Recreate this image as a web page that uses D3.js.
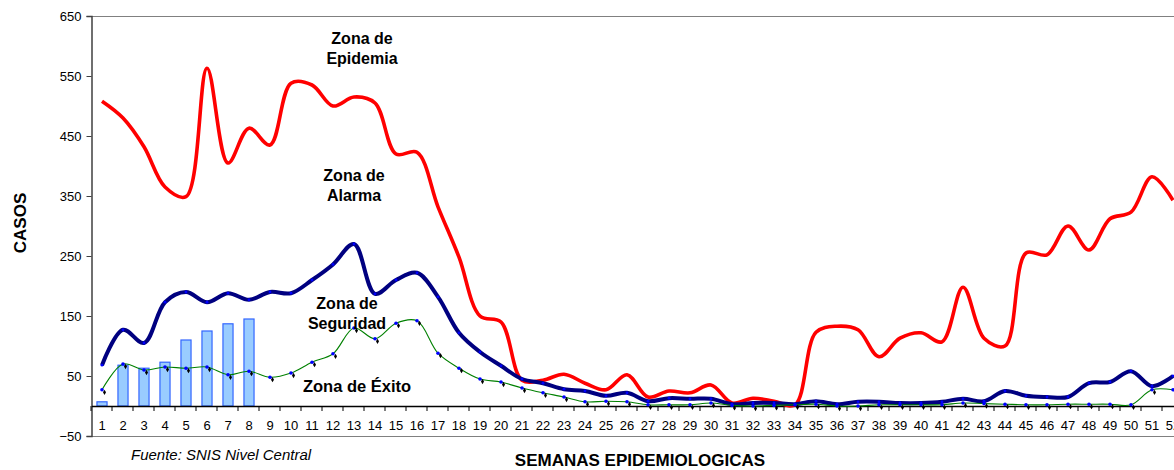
<!DOCTYPE html>
<html><head><meta charset="utf-8">
<script src="https://cdn.jsdelivr.net/npm/d3@7"></script>
<style>
html,body{margin:0;padding:0;background:#fff;overflow:hidden}
text{font-family:"Liberation Sans",Arial,sans-serif}
</style></head>
<body>
<svg id="c" width="1174" height="470"></svg>
<script>
const weeks = d3.range(1, 53).map(String);
const epidemia = [508,480,432,365,349,563,405,463,435,538,535,500,515,505,420,423,332,248,150,140,43,43,53,38,27,52,15,25,22,35,5,13,8,2,123,133,127,82,113,122,107,198,113,100,255,252,300,260,312,323,382,343];
const alarma = [68,127,105,173,190,173,188,177,190,188,210,236,270,187,210,222,182,122,90,67,45,38,28,25,17,22,8,13,12,12,3,5,5,3,8,3,7,7,5,5,7,12,8,25,17,15,15,38,40,58,33,50];
const seguridad = [27,70,60,65,63,65,52,58,48,55,73,87,130,112,138,142,88,63,45,40,30,22,15,7,8,7,2,2,2,5,1,0,1,2,3,0,0,2,2,2,2,5,4,3,2,2,3,3,3,2,27,27];
const casos = [7,68,63,73,110,125,137,145];
const yTicks = [-50,50,150,250,350,450,550,650];

const svg = d3.select("#c");
const left = 91.5, bandW = 21;
const x = d3.scaleBand().domain(weeks).range([left, left + bandW*52]).paddingInner(0.52).paddingOuter(0.26);
const xc = d => x(d) + x.bandwidth()/2;
const y = d3.scaleLinear().domain([-50, 650]).range([436, 16]);

// frame
svg.append("line").attr("x1", left).attr("x2", 1174).attr("y1", 16.5).attr("y2", 16.5).attr("stroke", "#808080").attr("stroke-width", 1.2);
svg.append("line").attr("x1", left).attr("x2", 1174).attr("y1", 436.5).attr("y2", 436.5).attr("stroke", "#808080").attr("stroke-width", 1.2);

// y axis
const yAxis = d3.axisLeft(y).tickValues(yTicks).tickSize(5).tickPadding(5);
const gy = svg.append("g").attr("transform", `translate(${left},0)`).call(yAxis);
gy.select(".domain").attr("stroke", "#404040").attr("stroke-width", 1.5);
gy.selectAll(".tick line").attr("stroke", "#404040");
gy.selectAll("text").attr("font-size", 13).attr("fill", "#000").style("font-family", "Liberation Sans, Arial");

// bars
svg.append("g").selectAll("rect").data(casos).join("rect")
  .attr("x", (d,i) => x(weeks[i]))
  .attr("width", x.bandwidth())
  .attr("y", d => y(d))
  .attr("height", d => y(0) - y(d))
  .attr("fill", "#99ccff").attr("stroke", "#3366ff").attr("stroke-width", 1.2);

// x axis at zero
const xAxis = d3.axisBottom(x).tickSize(0).tickPadding(15);
const gx = svg.append("g").attr("transform", `translate(0,${y(0)})`).call(xAxis);
gx.select(".domain").attr("stroke", "#000").attr("stroke-width", 1.3);
gx.selectAll("text").attr("font-size", 13).attr("fill", "#000").style("font-family", "Liberation Sans, Arial");
// tick marks at band boundaries
svg.append("g").selectAll("line").data(weeks).join("line")
  .attr("x1", d => x(d) - x.step()*x.paddingInner()/2 - 0.5)
  .attr("x2", d => x(d) - x.step()*x.paddingInner()/2 - 0.5)
  .attr("y1", y(0)).attr("y2", y(0) + 5)
  .attr("stroke", "#000").attr("stroke-width", 1);

const line = d3.line().x((d,i) => xc(weeks[i])).y(d => y(d)).curve(d3.curveCatmullRom.alpha(0.5));

svg.append("path").datum(epidemia).attr("d", line).attr("fill", "none").attr("stroke", "#ff0000").attr("stroke-width", 3.6).attr("stroke-linejoin", "round");
svg.append("path").datum(alarma).attr("d", line).attr("fill", "none").attr("stroke", "#000080").attr("stroke-width", 4).attr("stroke-linejoin", "round");
svg.append("g").selectAll("circle").data(alarma).join("circle")
  .attr("cx", (d,i) => xc(weeks[i])).attr("cy", d => y(d)).attr("r", 1.4).attr("fill", "#0000ff");
svg.append("path").datum(seguridad).attr("d", line).attr("fill", "none").attr("stroke", "#008000").attr("stroke-width", 1.1);
// black diamond markers (offset)
svg.append("g").selectAll("path").data(seguridad).join("path")
  .attr("d", d3.symbol(d3.symbolDiamond, 8))
  .attr("transform", (d,i) => `translate(${xc(weeks[i]) + 2.5},${y(d) + 2.5})`).attr("fill", "#000");
svg.append("g").selectAll("circle").data(seguridad).join("circle")
  .attr("cx", (d,i) => xc(weeks[i])).attr("cy", d => y(d)).attr("r", 1.8).attr("fill", "#0000ff");

// zone labels
const lab = (tx, ty, lines, fs) => {
  const t = svg.append("text").attr("x", tx).attr("y", ty).attr("text-anchor", "middle")
    .attr("font-size", fs || 16).attr("font-weight", "bold").attr("fill", "#000");
  lines.forEach((s, i) => t.append("tspan").attr("x", tx).attr("dy", i ? 20 : 0).text(s));
};
lab(362, 44, ["Zona de", "Epidemia"]);
lab(354, 181, ["Zona de", "Alarma"]);
lab(347, 309, ["Zona de", "Seguridad"]);
lab(357, 392, ["Zona de Éxito"], 16.5);

// axis titles
svg.append("text").attr("transform", "translate(26,223) rotate(-90)").attr("text-anchor", "middle")
  .attr("font-size", 17).attr("font-weight", "bold").text("CASOS");
svg.append("text").attr("x", 640).attr("y", 466).attr("text-anchor", "middle")
  .attr("font-size", 17).attr("font-weight", "bold").text("SEMANAS EPIDEMIOLOGICAS");
svg.append("text").attr("x", 131).attr("y", 460)
  .attr("font-size", 15).attr("font-style", "italic").text("Fuente: SNIS Nivel Central");
</script>
</body></html>
